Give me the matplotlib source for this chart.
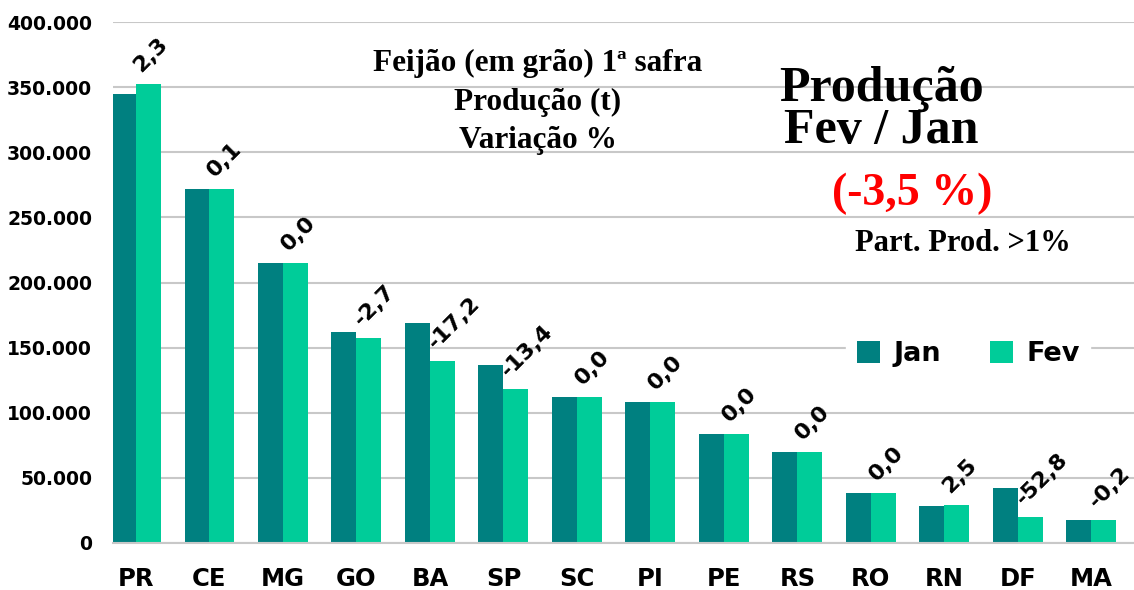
import numpy as np
import matplotlib
matplotlib.use("Agg")
import matplotlib.pyplot as plt
from matplotlib.ticker import FuncFormatter

# dados (t)
estados = ["PR", "CE", "MG", "GO", "BA", "SP", "SC", "PI", "PE", "RS", "RO", "RN", "DF", "MA"]
jan = [344700, 271800, 215000, 162000, 168900, 136700, 112100, 108300, 83700, 69900, 38400, 28400, 42200, 17700]
fev = [352500, 271900, 215000, 157500, 139800, 118400, 112100, 108300, 83700, 69900, 38400, 29200, 20000, 17700]
variacao = [2.3, 0.1, 0.0, -2.7, -17.2, -13.4, 0.0, 0.0, 0.0, 0.0, 0.0, 2.5, -52.8, -0.2]

cor_jan = "#008080"
cor_fev = "#00CC99"
sans = "DejaVu Sans"
serif = "Liberation Serif"

fig = plt.figure(figsize=(11.34, 5.90), dpi=100)
ax = fig.add_axes([113 / 1134, 1 - 543 / 590, 1 - 113 / 1134, (543 - 22) / 590])

x = np.arange(len(estados))
w = 0.34
ax.bar(x - w / 2, jan, w, color=cor_jan, label="Jan", zorder=2)
ax.bar(x + w / 2, fev, w, color=cor_fev, label="Fev", zorder=2)

# rótulos de variação
for xi, v, var in zip(x, fev, variacao):
    txt = f"{var:.1f}".replace(".", ",")
    ax.annotate(txt, xy=(xi + w / 2, v), xytext=(-3, 6), textcoords="offset points",
                rotation=45, rotation_mode="anchor", ha="left", va="bottom",
                fontsize=16, fontweight="bold", family=sans, zorder=3)

ax.set_xlim(-0.313, 13.58)
ax.set_ylim(0, 400000)
ax.set_yticks(np.arange(0, 400001, 50000))
ax.yaxis.set_major_formatter(FuncFormatter(lambda v, p: f"{int(v):,}".replace(",", ".")))
ax.set_xticks(x)
ax.set_xticklabels(estados)
ax.tick_params(axis="y", length=0, pad=15, labelsize=13.5)
ax.tick_params(axis="x", length=0, pad=17, labelsize=17.5)
for lab in ax.get_yticklabels() + ax.get_xticklabels():
    lab.set_fontweight("bold")
    lab.set_family(sans)

ax.grid(axis="y", color="#c8c8c8", linewidth=1.5, zorder=0)
for s in ["top", "right", "left"]:
    ax.spines[s].set_visible(False)
ax.spines["bottom"].set_color("#c8c8c8")
ax.spines["bottom"].set_linewidth(1.5)

leg = ax.legend(loc="center", bbox_to_anchor=((968 - 113) / 1021, (543 - 354) / 521),
                ncol=2, frameon=True, fancybox=False, edgecolor="white", framealpha=1,
                prop={"family": sans, "weight": "bold", "size": 19.5},
                handlelength=0.85, handleheight=0.85, columnspacing=1.8, handletextpad=0.5)

# textos
fig.text(538 / 1134, 1 - 102 / 590, "Feijão (em grão) 1ª safra\nProdução (t)\nVariação %",
         ha="center", va="center", family=serif, fontweight="bold", fontsize=22.5, linespacing=1.45)
fig.text(881 / 1134, 1 - 110 / 590, "Produção\nFev / Jan", ha="center", va="center",
         family=serif, fontweight="bold", fontsize=36, linespacing=0.9)
fig.text(912 / 1134, 1 - 194 / 590, "(-3,5 %)", ha="center", va="center",
         family=serif, fontweight="bold", fontsize=33, color="#FF0000")
fig.text(963 / 1134, 1 - 244 / 590, "Part. Prod. >1%", ha="center", va="center",
         family=serif, fontweight="bold", fontsize=22)

fig.savefig("out.png", dpi=100)
